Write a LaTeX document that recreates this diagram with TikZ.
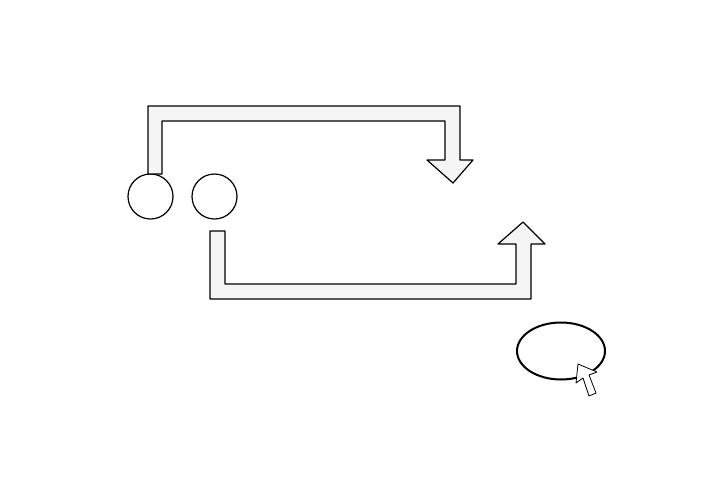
\documentclass[tikz,border=0pt]{standalone}
\usepackage{tikz}
\usetikzlibrary{shapes.geometric,positioning,calc}
\usepackage{xcolor}
\definecolor{arrowfill}{RGB}{245,245,245}

\begin{document}
\begin{tikzpicture}[x=1pt,y=-1pt,line join=round]
    \useasboundingbox (0,0) rectangle (704,496);

    % Two small circles
    \node[draw,circle,line width=1.2pt,minimum width=45pt,minimum height=44pt,inner sep=0pt]
      (leftdot) at (150.5,196.5) {};
    \node[draw,circle,line width=1.2pt,minimum size=45pt,inner sep=0pt]
      (rightdot) at (214.5,196.5) {};

    % Upper block arrow (pointing down)
    \draw[fill=arrowfill,line width=1.2pt]
      (148,174) -- (148,106) -- (460,106) -- (460,160) -- (473,160)
      -- (453,183) -- (427,160) -- (445,160) -- (445,121) -- (162,121)
      -- (162,174) -- cycle;

    % Lower block arrow (pointing up)
    \draw[fill=arrowfill,line width=1.2pt]
      (210,231) -- (210,299) -- (531,299) -- (531,244) -- (545,244)
      -- (523,222) -- (498,244) -- (516,244) -- (516,284) -- (225,284)
      -- (225,231) -- cycle;

    % Target ellipse with pointer
    \node[draw,ellipse,line width=2pt,minimum width=88pt,minimum height=57pt,inner sep=0pt]
      (target) at (561,351) {};
    \draw[fill=white,line width=0.8pt]
      (578,364) -- (576,383) -- (583,378) -- (589,396) -- (596,393)
      -- (589,375) -- (597,372) -- cycle;
  \end{tikzpicture}
\end{document}
